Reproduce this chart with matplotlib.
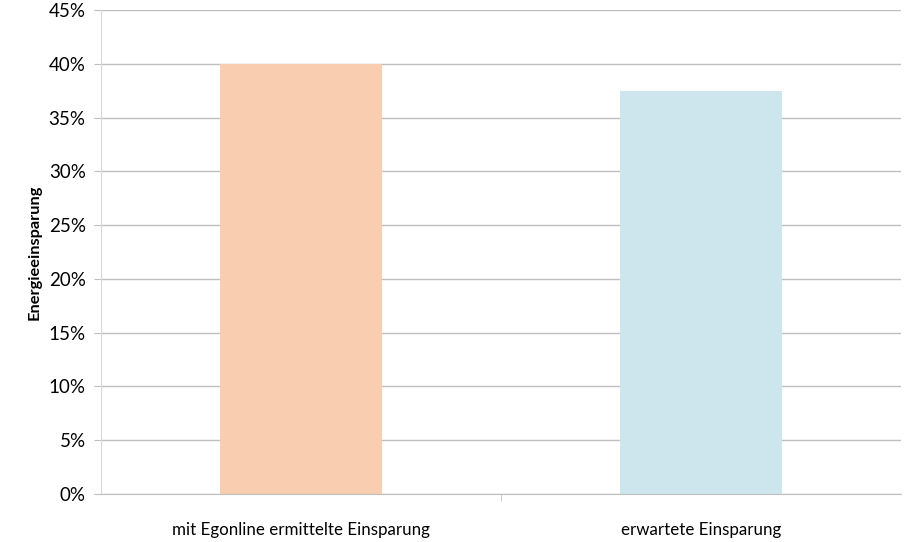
import matplotlib.pyplot as plt
from matplotlib.ticker import FuncFormatter, FixedLocator

categories = ['mit Egonline ermittelte Einsparung', 'erwartete Einsparung']
savings = [0.40, 0.375]
bar_colors = ['#f9cdb0', '#cde5ec']

plt.rcParams['font.family'] = ['Lato', 'DejaVu Sans']

fig = plt.figure(figsize=(9.12, 5.42), dpi=100)
ax = fig.add_axes([0.1107, 0.0886, 0.8773, 0.8929])

positions = range(len(categories))
ax.bar(positions, savings, width=0.405, color=bar_colors, zorder=2)

ax.set_xlim(-0.5, len(categories) - 0.5)
ax.set_ylim(0, 0.45)
ax.set_yticks([i * 0.05 for i in range(10)])
ax.yaxis.set_major_formatter(FuncFormatter(lambda v, _: f'{v * 100:.0f}%'))
ax.set_xticks(list(positions))
ax.set_xticklabels(categories, fontsize=12.2)
ax.xaxis.set_minor_locator(FixedLocator([0.5]))
ax.tick_params(axis='x', which='major', length=0, pad=20)
ax.tick_params(axis='x', which='minor', length=5, color='#bfbfbf')
ax.tick_params(axis='y', length=5, color='#bfbfbf', labelsize=13.5, pad=6)

ax.grid(axis='y', color='#bfbfbf', linewidth=1, zorder=0)
ax.set_axisbelow(True)
for side in ['top', 'right']:
    ax.spines[side].set_visible(False)
ax.spines['left'].set_color('#d9d9d9')
ax.spines['bottom'].set_color('#bfbfbf')

ax.set_ylabel('Energieeinsparung', fontsize=11.8, fontweight='bold', labelpad=5)

fig.savefig('out.png', dpi=100)
